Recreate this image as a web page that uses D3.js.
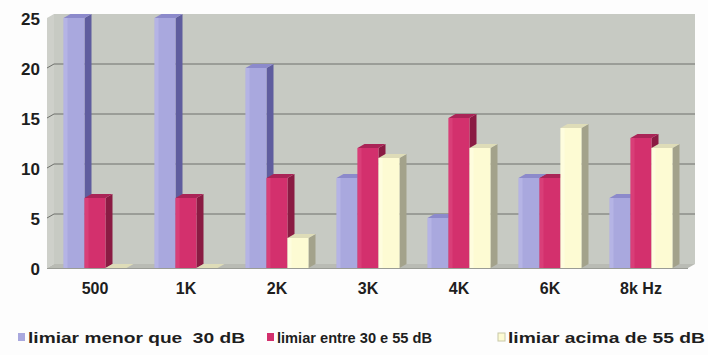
<!DOCTYPE html>
<html>
<head>
<meta charset="utf-8">
<script src="https://cdn.jsdelivr.net/npm/d3@7"></script>
<style>
  html, body { margin: 0; padding: 0; background: #fdfdfd; }
  svg { display: block; }
  text { font-family: "Liberation Sans", Arial, sans-serif; font-weight: bold; fill: #1e1e1e; }
</style>
</head>
<body>
<svg id="chart" width="708" height="355"></svg>
<script>
// Audiometric frequencies and number of cases per threshold group
const categories = ["500", "1K", "2K", "3K", "4K", "6K", "8k Hz"];
const menor = [25, 25, 20, 9, 5, 9, 7];
const entre = [7, 7, 9, 12, 15, 9, 13];
const acima = [0, 0, 3, 11, 12, 14, 12];
const seriesNames = ["limiar menor que  30 dB", "limiar entre 30 e 55 dB", "limiar acima de 55 dB"];
const yTicks = [0, 5, 10, 15, 20, 25];

const seriesValues = [menor, entre, acima];
const faces = [
  { front: "#a9a8de", side: "#5f5d9e", top: "#8c8acb", edge: "#c4c3ee" },
  { front: "#d3306d", side: "#8a1b43", top: "#aa2457", edge: "#e04f86" },
  { front: "#fdfbd3", side: "#a3a28b", top: "#dedcb8", edge: "#fffeea" }
];

const svg = d3.select("#chart");
const dx = 7, dy = 4;            // depth offset of the 3D look
const left = 47, right = 688, base = 268;

const x = d3.scaleBand().domain(categories).range([49.5, 686.5]).paddingInner(0);
const xs = d3.scaleBand().domain(d3.range(3)).range([14, 77]);
const y = d3.scaleLinear().domain([0, 25]).range([base, 18]);

// side wall, back wall and floor
svg.append("path")
  .attr("d", `M${left},${y(25)}L${left + dx},${y(25) - dy}L${left + dx},${base - dy}L${left},${base}Z`)
  .attr("fill", "#ced0ca");
svg.append("rect")
  .attr("x", left + dx).attr("y", y(25) - dy)
  .attr("width", right + dx - left - dx).attr("height", base - y(25))
  .attr("fill", "#c7cac3");
svg.append("path")
  .attr("d", `M${left},${base}L${left + dx},${base - dy}L${right + dx},${base - dy}L${right},${base}Z`)
  .attr("fill", "#b9bbb4");
svg.append("line")
  .attr("x1", left).attr("x2", right).attr("y1", base + 0.5).attr("y2", base + 0.5)
  .attr("stroke", "#9a9c96");

// gridlines running along the side wall and across the back wall
svg.append("g").selectAll("path")
  .data(yTicks.filter(v => v > 0 && v < 25))
  .join("path")
  .attr("d", v => `M${left},${y(v)}L${left + dx},${y(v) - dy}L${right + dx},${y(v) - dy}`)
  .attr("fill", "none")
  .attr("stroke", "#6e706c")
  .attr("stroke-width", 1);

// bars
const bars = [];
categories.forEach((c, i) => {
  seriesValues.forEach((vals, s) => {
    bars.push({ c, s, v: vals[i] });
  });
});

const g = svg.append("g");
bars.forEach(d => {
  const x0 = x(d.c) + xs(d.s);
  const w = xs.bandwidth();
  const y0 = y(d.v);
  const f = faces[d.s];
  const bar = g.append("g");
  bar.append("path")
    .attr("d", `M${x0 + w},${y0}L${x0 + w + dx},${y0 - dy}L${x0 + w + dx},${base - dy}L${x0 + w},${base}Z`)
    .attr("fill", f.side);
  bar.append("path")
    .attr("d", `M${x0},${y0}L${x0 + dx},${y0 - dy}L${x0 + w + dx},${y0 - dy}L${x0 + w},${y0}Z`)
    .attr("fill", f.top);
  if (d.v > 0) {
    bar.append("rect")
      .attr("x", x0).attr("y", y0)
      .attr("width", w).attr("height", base - y0)
      .attr("fill", f.front);
    bar.append("rect")
      .attr("x", x0).attr("y", y0)
      .attr("width", 4).attr("height", base - y0)
      .attr("fill", f.edge).attr("opacity", 0.45);
  }
});

// y axis labels
const yAxis = svg.append("g")
  .attr("transform", `translate(${left},1)`)
  .call(d3.axisLeft(y).tickValues(yTicks).tickSize(0).tickPadding(7));
yAxis.select(".domain").remove();
yAxis.selectAll("text")
  .attr("font-size", 17)
  .attr("font-family", "Liberation Sans, Arial, sans-serif")
  .attr("font-weight", "bold")
  .attr("fill", "#1e1e1e");

// x axis labels
const xAxis = svg.append("g")
  .attr("transform", `translate(0,${base})`)
  .call(d3.axisBottom(x).tickSize(0).tickPadding(15));
xAxis.select(".domain").remove();
xAxis.selectAll("text")
  .attr("font-size", 16)
  .attr("font-family", "Liberation Sans, Arial, sans-serif")
  .attr("font-weight", "bold")
  .attr("fill", "#1e1e1e");

// legend
const legendX = [18, 267, 498];
const legendW = [217, 155, 197];
const legend = svg.append("g");
seriesNames.forEach((name, s) => {
  legend.append("rect")
    .attr("x", legendX[s]).attr("y", 333)
    .attr("width", 7).attr("height", 8)
    .attr("fill", faces[s].front)
    .attr("stroke", s === 2 ? "#c8c8a8" : "none");
  legend.append("text")
    .attr("x", legendX[s] + 10).attr("y", 343)
    .attr("font-size", 15)
    .attr("textLength", legendW[s])
    .attr("lengthAdjust", "spacingAndGlyphs")
    .style("white-space", "pre")
    .text(name);
});
</script>
</body>
</html>
